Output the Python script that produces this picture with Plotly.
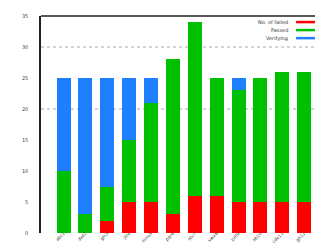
import plotly.graph_objects as go

categories = ["abc1", "def2", "ghi3", "jkl4", "mno5", "pqr6", "stu7", "vwx8", "yz09", "ab10", "cde11", "gh12"]
failed = [0, 0, 2, 5, 5, 3, 6, 6, 5, 5, 5, 5]
passed = [10, 3, 5.5, 10, 16, 25, 28, 19, 18, 20, 21, 21]
pending = [15, 22, 17.5, 10, 4, 0, 0, 0, 2, 0, 0, 0]
series_names = ["No. of failed", "Passed", "Verifying"]
y_ticks = [0, 5, 10, 15, 20, 25, 30, 35]
grid_values = [20, 30]

colors = ["#ff0000", "#00c000", "#1e7fff"]
x = list(range(len(categories)))

fig = go.Figure()
for name, vals, col in zip(series_names, [failed, passed, pending], colors):
    fig.add_trace(go.Bar(x=x, y=vals, name=name, marker=dict(color=col, line=dict(width=0)),
                         width=0.64, showlegend=False))

shapes = []
for g in grid_values:
    shapes.append(dict(type="line", xref="paper", yref="y", x0=0, x1=1, y0=g, y1=g,
                       line=dict(color="#aaaaaa", width=1, dash="dot"), layer="below"))
shapes.append(dict(type="line", xref="paper", yref="paper", x0=0, x1=1, y0=1, y1=1,
                   line=dict(color="#222222", width=1.5)))

annotations = []
row_y = [0.972, 0.935, 0.898]
for i, (name, col) in enumerate(zip(series_names, colors)):
    annotations.append(dict(xref="paper", yref="paper", x=0.875, y=row_y[i], text=name,
                            showarrow=False, xanchor="right", yanchor="middle",
                            font=dict(size=5, color="#333333")))
    shapes.append(dict(type="line", xref="paper", yref="paper", x0=0.895, x1=0.972,
                       y0=row_y[i], y1=row_y[i], line=dict(color=col, width=2.5)))

fig.update_layout(
    barmode="stack",
    width=323, height=246,
    margin=dict(l=33, r=5, t=8, b=21),
    paper_bgcolor="white", plot_bgcolor="white",
    font=dict(family="DejaVu Sans", size=5, color="#444444"),
    shapes=shapes, annotations=annotations,
    xaxis=dict(range=[-1.03, 12.0], tickvals=x, ticktext=categories, tickangle=-45,
               showline=False, showgrid=False, zeroline=False, ticks="", automargin=False,
               tickfont=dict(size=4.5, color="#444444"), ticklabelstandoff=-4),
    yaxis=dict(range=[0, 35], tickvals=y_ticks, showline=True, linecolor="#222222",
               linewidth=1.5, showgrid=False, zeroline=False, ticks="", automargin=False,
               tickfont=dict(size=5, color="#444444"), ticklabelstandoff=10),
)

fig.write_html("out.html")
